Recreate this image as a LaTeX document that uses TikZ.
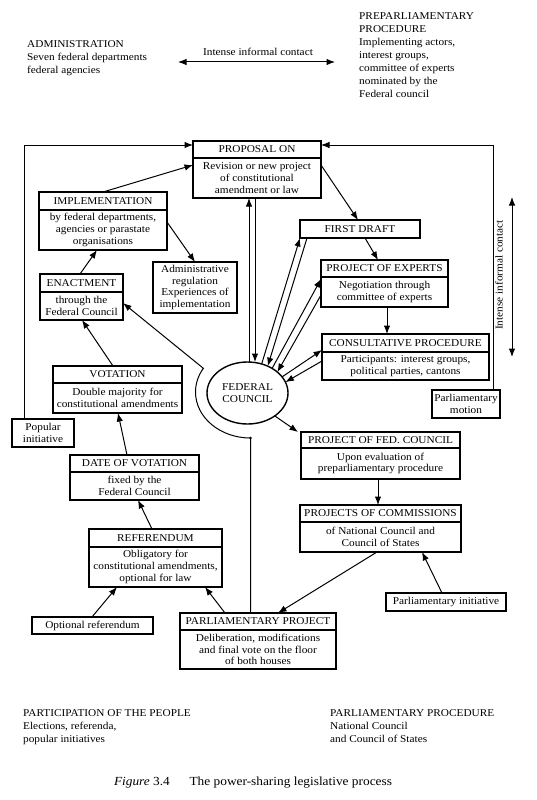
\documentclass[tikz,border=0pt]{standalone}
\usepackage{fontspec}
\setmainfont{Liberation Serif}[FakeStretch=1.08]
\usetikzlibrary{arrows.meta,shapes.geometric}
\tikzset{
  every node/.style={font=\fontsize{10.5}{11.8}\selectfont},
  boxs/.style={draw, line width=1.4bp, inner sep=0pt, outer sep=0pt, rectangle},
  arr/.style={line width=1bp, -{Latex[length=8.5bp,width=6.5bp]}},
  dar/.style={line width=1bp, {Latex[length=8.5bp,width=6.5bp]}-{Latex[length=8.5bp,width=6.5bp]}},
  txt/.style={inner sep=0pt, align=center},
  outer/.style={inner sep=0pt, align=left, anchor=north west, font=\fontsize{10.5}{13}\selectfont},
}
\newcommand\dbox[8]{%
  \node[boxs, anchor=north west, minimum width={(#4-#2)*1bp}, minimum height={(#5-#3)*1bp}] (#1) at (#2,#3) {};
  \draw[line width=1.4bp] (#2,#6) -- (#4,#6);
  \node[txt] (#1h) at ({(#2+#4)/2},{(#3+#6)/2}) {#7};
  \node[txt] (#1b) at ({(#2+#4)/2},{(#6+#5)/2}) {#8};
}
\newcommand\onebox[6]{%
  \node[boxs, anchor=north west, minimum width={(#4-#2)*1bp}, minimum height={(#5-#3)*1bp}] (#1) at (#2,#3) {};
  \node[txt] (#1t) at ({(#2+#4)/2},{(#3+#5)/2}) {#6};
}
\begin{document}
\begin{tikzpicture}[x=1bp,y=-1bp]
\fill[white] (0,0) rectangle (537,800);
\useasboundingbox (0,0) rectangle (537,800);

% outer texts
\node[outer] (admin) at (27,40.5) {ADMINISTRATION\\Seven federal departments\\federal agencies};
\node[outer] (prep) at (359,12.5) {PREPARLIAMENTARY\\PROCEDURE\\Implementing actors,\\interest groups,\\committee of experts\\nominated by the\\Federal council};
\node[outer] (people) at (23,709.5) {PARTICIPATION OF THE PEOPLE\\Elections, referenda,\\popular initiatives};
\node[outer] (parlproc) at (330,709.5) {PARLIAMENTARY PROCEDURE\\National Council\\and Council of States};
\node[txt, font=\fontsize{12.4}{14}\selectfont] (caption) at (253,783) {\textit{Figure} 3.4\hspace{1.6em}The power-sharing legislative process};

% informal contact arrows
\node[txt] (ictop) at (258,52) {Intense informal contact};
\coordinate (tl) at (178,62);
\coordinate (tr) at (335,62);
\draw[dar] (tl) -- (tr);
\node[txt, rotate=90] (icright) at (499,275) {Intense informal contact};
\coordinate (vt) at (512,197);
\coordinate (vb) at (512,357);
\draw[dar] (vt) -- (vb);

% boxes
\dbox{prop}{193}{141}{321}{198}{158}{PROPOSAL ON}{Revision or new project\\of constitutional\\amendment or law}
\dbox{impl}{39}{192}{167}{250}{210}{IMPLEMENTATION}{by federal departments,\\agencies or parastate\\organisations}
\dbox{enact}{40}{274}{123}{320}{292}{ENACTMENT}{through the\\Federal Council}
\dbox{vot}{53}{366}{182}{413}{383}{VOTATION}{Double majority for\\constitutional amendments}
\dbox{dov}{70}{455}{199}{500}{472}{DATE OF VOTATION}{fixed by the\\Federal Council}
\dbox{ref}{89}{529}{222}{587}{547}{REFERENDUM}{Obligatory for\\constitutional amendments,\\optional for law}
\dbox{pp}{180}{613}{336}{669}{630}{PARLIAMENTARY PROJECT}{Deliberation, modifications\\and final vote on the floor\\of both houses}
\onebox{fd}{300}{220}{420}{238}{FIRST DRAFT}
\dbox{poe}{321}{260}{448}{307}{277}{PROJECT OF EXPERTS}{Negotiation through\\committee of experts}
\dbox{cons}{322}{334}{489}{380}{352}{CONSULTATIVE PROCEDURE}{Participants: interest groups,\\political parties, cantons}
\dbox{pofc}{301}{432}{460}{479}{448}{PROJECT OF FED. COUNCIL}{Upon evaluation of\\preparliamentary procedure}
\dbox{poc}{300}{505}{461}{552}{522}{PROJECTS OF COMMISSIONS}{of National Council and\\Council of States}
\onebox{admreg}{153}{262}{237}{313}{Administrative\\regulation\\Experiences of\\implementation}
\onebox{popinit}{12}{419}{74}{447}{Popular\\initiative}
\onebox{pmotion}{432}{390}{500}{418}{Parliamentary\\motion}
\onebox{optref}{32}{617}{153}{634}{Optional referendum}
\onebox{pinit}{386}{593}{506}{611}{Parliamentary initiative}

\node[draw, ellipse, line width=1.4bp, minimum width=81bp, minimum height=62bp, inner sep=0pt, outer sep=0pt, align=center] (fc) at (247.5,393) {FEDERAL\\COUNCIL};

% connectors
\draw[arr] (impl.north) -- (prop.west |- 0,165);
\draw[arr] (impl.east |- 0,222) -- (admreg.north -| 195,0);
\draw[arr] (enact.north -| 80,0) -- (impl.south -| 97,0);
\draw[arr] (vot.north -| 113,0) -- (enact.south -| 82,0);
\draw[arr] (dov.north -| 127,0) -- (vot.south -| 118,0);
\draw[arr] (ref.north -| 152,0) -- (dov.south -| 138,0);
\draw[arr] (optref.north -| 92,0) -- (ref.south -| 117,0);
\draw[arr] (pp.north -| 225,0) -- (ref.south -| 205,0);
\draw[arr] (poc.south -| 377,0) -- (pp.north -| 278,0);
\draw[arr] (pinit.north -| 442,0) -- (poc.south -| 422,0);
\draw[arr] (pofc.south -| 378,0) -- (poc.north -| 378,0);
\draw[arr] (fc.-40) -- (pofc.north -| 298,0);
\draw[arr] (poe.south -| 387,0) -- (cons.north -| 387,0);
\draw[arr] (fd.south -| 365,0) -- (poe.north -| 378,0);
\draw[arr] (prop.east |- 0,165) -- (fd.north -| 358,0);
\draw[arr] (fc.north -| 249,0) -- (prop.south -| 249,0);
\draw[arr] (prop.south -| 255,0) -- (fc.north -| 255,0);
\draw[arr] (fc.64) -- (fd.south west);
\draw[arr] (fd.south -| 307,0) -- (fc.53);
\draw[arr] (fc.45) -- (poe.west |- 0,279);
\draw[arr] (poe.west |- 0,295) -- (fc.35);
\draw[arr] (fc.25) -- (cons.west |- 0,350);
\draw[arr] (cons.west |- 0,361) -- (fc.16);
\draw[arr] (popinit.north -| 24,0) |- (prop.west |- 0,145);
\draw[arr] (pmotion.north -| 493,0) |- (prop.east |- 0,145);
\coordinate (junc) at (250.5,438);
\draw[arr] (pp.north -| junc) -- (junc) arc[start angle=90, end angle=211, x radius=55, y radius=46] -- (enact.east |- 0,303);
\fill (junc) circle (1.3);
\end{tikzpicture}
\end{document}
